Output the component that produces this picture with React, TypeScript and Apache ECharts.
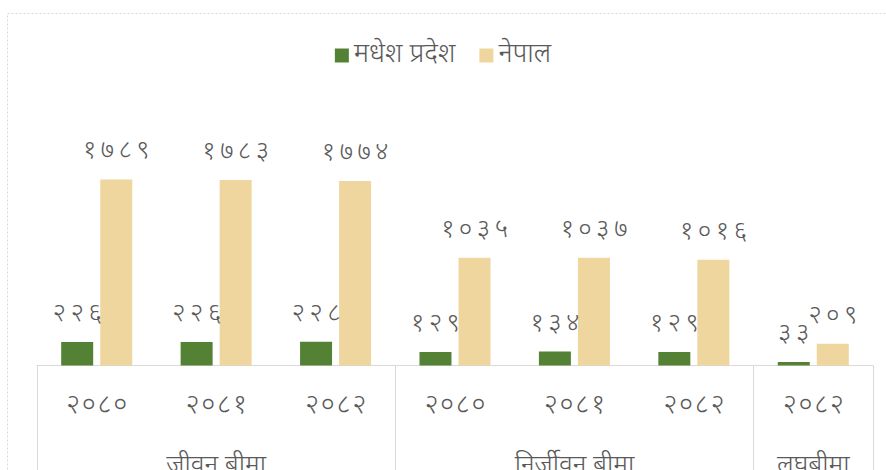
import React, { useEffect, useRef } from "react";
import * as echarts from "echarts";

const years = ["२०८०", "२०८१", "२०८२", "२०८०", "२०८१", "२०८२", "२०८२"];
const groupLabels = ["", "जीवन बीमा", "", "", "निर्जीवन बीमा", "", "लघुबीमा"];
const groupStarts = [0, 3, 6];
const madheshValues = [226, 226, 228, 129, 134, 129, 33];
const nepalValues = [1789, 1783, 1774, 1035, 1037, 1016, 209];
const seriesNames = ["मधेश प्रदेश", "नेपाल"];

const devDigits = ["०", "१", "२", "३", "४", "५", "६", "७", "८", "९"];
const spaced = (s: string, sep: string) => s.split("").join(sep);
const toDev = (n: number) => spaced(String(n).split("").map((c) => devDigits[+c] ?? c).join(""), "\u2006");

const FONT = "'Noto Sans Devanagari', 'Noto Sans', sans-serif";
const GREY = "#595959";

export default function App() {
  const ref = useRef<HTMLDivElement>(null);
  useEffect(() => {
    if (!ref.current) return;
    const chart = echarts.init(ref.current, null, { renderer: "svg" });
    const label = {
      show: true,
      position: "top" as const,
      distance: 14,
      color: GREY,
      fontSize: 26,
      fontWeight: 300,
      fontFamily: FONT,
      formatter: (p: any) => toDev(p.value),
    };
    chart.setOption({
      animation: false,
      backgroundColor: "#ffffff",
      graphic: [
        {
          type: "rect",
          shape: { x: 7.5, y: 13.5, width: 890, height: 470 },
          style: { fill: "none", stroke: "#d9d9d9", lineWidth: 1, lineDash: [2, 2] },
          silent: true,
        },
      ],
      legend: {
        top: 37,
        left: "center",
        itemWidth: 14,
        itemHeight: 14,
        itemGap: 24,
        icon: "rect",
        textStyle: { color: GREY, fontSize: 27, fontWeight: 300, fontFamily: FONT },
        data: seriesNames,
      },
      grid: { left: 37, right: 13, top: 157.5, bottom: 104.5, containLabel: false, outerBoundsMode: "none" },
      xAxis: [
        {
          type: "category",
          data: years,
          position: "bottom",
          axisLine: { show: true, lineStyle: { color: "#d9d9d9", width: 1 } },
          axisTick: {
            show: true,
            length: 120,
            interval: (i: number) => groupStarts.includes(i),
            lineStyle: { color: "#d9d9d9", width: 1 },
          },
          axisLabel: {
            interval: 0,
            margin: 27,
            color: GREY,
            fontSize: 27,
            fontWeight: 300,
            fontFamily: FONT,
            formatter: (v: string) => spaced(v, "\u200A"),
          },
        },
        {
          type: "category",
          data: groupLabels,
          position: "bottom",
          offset: 0,
          axisLine: { show: false },
          axisTick: { show: false },
          axisLabel: { interval: 0, margin: 88, color: GREY, fontSize: 26, fontWeight: 300, fontFamily: FONT },
        },
      ],
      yAxis: { type: "value", min: 0, max: 2000, show: false, splitLine: { show: false } },
      series: [
        {
          name: seriesNames[0],
          type: "bar",
          data: madheshValues,
          barWidth: 32,
          barGap: "22%",
          itemStyle: { color: "#548235" },
          label,
        },
        {
          name: seriesNames[1],
          type: "bar",
          data: nepalValues,
          barWidth: 32,
          barGap: "22%",
          itemStyle: { color: "#EED69E" },
          label,
        },
      ],
    });
    return () => chart.dispose();
  }, []);
  return (
    <div
      ref={ref}
      style={{ position: "fixed", left: 0, top: 0, width: 886, height: 470, background: "#fff" }}
    />
  );
}
